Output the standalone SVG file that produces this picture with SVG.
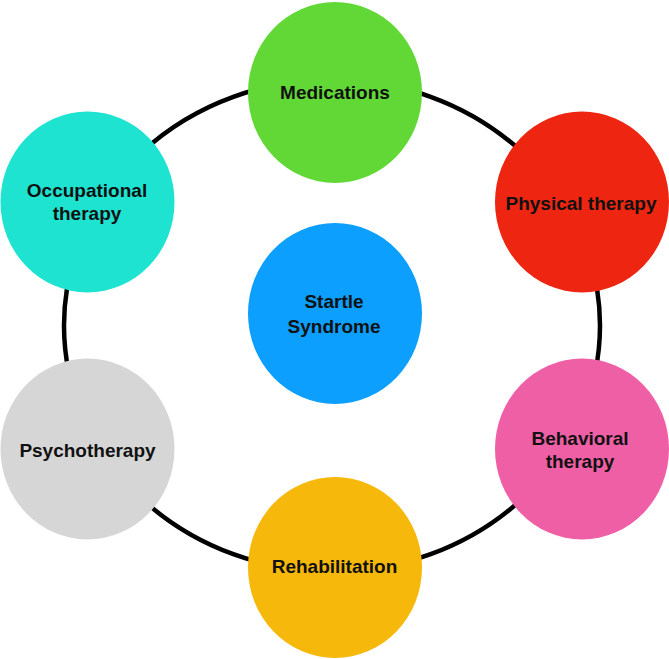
<svg xmlns="http://www.w3.org/2000/svg" width="669" height="659" viewBox="0 0 669 659">
<style>
.lbl{font-family:"Liberation Sans",Arial,sans-serif;font-weight:bold;font-size:19px;fill:#111;text-anchor:middle}
.ring{fill:none;stroke:#000;stroke-width:4.5}
</style>
<rect width="669" height="659" fill="#fff"/>
<g id="connectors">
<ellipse class="ring" cx="332" cy="325.5" rx="268" ry="246"/>
</g>
<g id="medications">
<ellipse cx="335" cy="92.5" rx="87" ry="90.5" fill="#62d837"/>
<text class="lbl" x="335" y="99">Medications</text>
</g>
<g id="physical-therapy">
<ellipse cx="582" cy="202" rx="87" ry="90.5" fill="#ee2510"/>
<text class="lbl" x="581" y="210">Physical therapy</text>
</g>
<g id="behavioral-therapy">
<ellipse cx="582" cy="449" rx="87" ry="90.5" fill="#ef5fa6"/>
<text class="lbl" x="580" y="445">Behavioral</text>
<text class="lbl" x="580" y="468">therapy</text>
</g>
<g id="rehabilitation">
<ellipse cx="335" cy="567.5" rx="87" ry="90.5" fill="#f6b80a"/>
<text class="lbl" x="334.5" y="573">Rehabilitation</text>
</g>
<g id="psychotherapy">
<ellipse cx="87.5" cy="449" rx="87" ry="90.5" fill="#d6d6d6"/>
<text class="lbl" x="87.5" y="457">Psychotherapy</text>
</g>
<g id="occupational-therapy">
<ellipse cx="87.5" cy="202" rx="87" ry="90.5" fill="#1de3d0"/>
<text class="lbl" x="87" y="197">Occupational</text>
<text class="lbl" x="87" y="220">therapy</text>
</g>
<g id="startle-syndrome">
<ellipse cx="335" cy="313.5" rx="87" ry="90.5" fill="#0c9ffd"/>
<text class="lbl" x="334" y="308">Startle</text>
<text class="lbl" x="334" y="333">Syndrome</text>
</g>
</svg>
